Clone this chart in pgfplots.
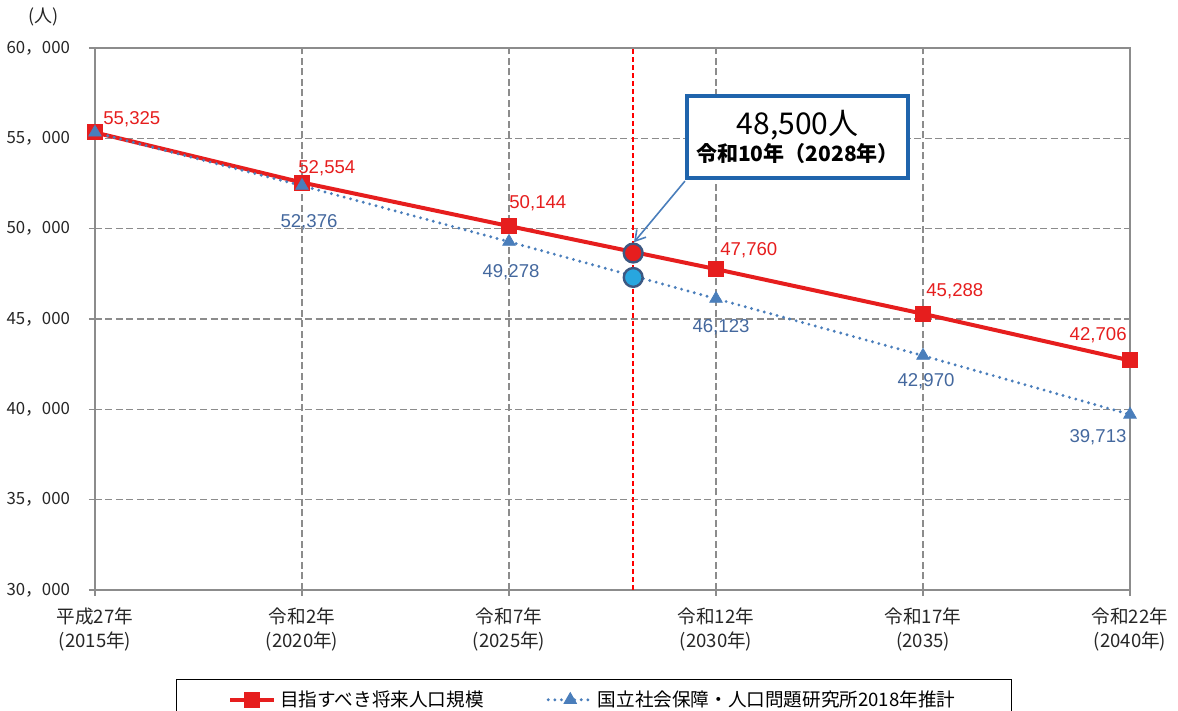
\documentclass[border=0pt]{standalone}
\usepackage{pgfplots}
\pgfplotsset{compat=1.18}
\usepackage{fontspec}
\setmainfont{Liberation Sans}
\newfontfamily\jp{Noto Sans CJK JP}
\usetikzlibrary{arrows.meta}
\definecolor{cred}{RGB}{230,30,30}
\definecolor{cblue}{RGB}{74,126,187}
\definecolor{lblue}{RGB}{68,104,158}
\definecolor{boxblue}{RGB}{31,100,172}
\definecolor{ringc}{RGB}{60,88,130}
\definecolor{cyanc}{RGB}{40,166,223}
\definecolor{gridc}{RGB}{140,140,140}
\begin{document}
\begin{tikzpicture}
\begin{axis}[
  name=ax,
  scale only axis,
  width=517.5pt, height=271pt,
  xmin=2015, xmax=2040,
  ymin=30000, ymax=60000,
  clip=false,
  scaled y ticks=false,
  xtick={2015,2020,2025,2030,2035,2040},
  xticklabels={{平成27年\\(2015年)},{令和2年\\(2020年)},{令和7年\\(2025年)},{令和12年\\(2030年)},{令和17年\\(2035)},{令和22年\\(2040年)}},
  ytick={30000,35000,40000,45000,50000,55000,60000},
  yticklabels={{30，000},{35，000},{40，000},{45，000},{50，000},{55，000},{60，000}},
  xtick pos=bottom, ytick pos=left,
  tick align=outside,
  major tick length=3pt,
  tick style={gridc, line width=0.6pt},
  axis line style={gridc, line width=0.8pt},
  grid=major,
  major grid style={gridc, line width=0.6pt, dash pattern=on 3.5pt off 1.75pt},
  xticklabel style={font=\jp\fontsize{9.3}{12}\selectfont, align=center, text=black!85, yshift=-2.5pt},
  yticklabel style={font=\jp\fontsize{8.4}{10}\selectfont, text=black!85, xshift=-6pt},
  legend style={at={(rel axis cs:0.482,-0.164)}, anchor=north, draw=black, line width=0.6pt,
    font=\jp\fontsize{9.3}{12}\selectfont, inner xsep=26pt, inner ysep=3.5pt,
    /tikz/every even column/.append style={column sep=29.5pt}},
  legend columns=2,
  legend cell align=left,
  legend image code/.code={\draw[mark repeat=2,mark phase=2,#1] plot coordinates {(0pt,0pt) (11pt,0pt) (22pt,0pt)};},
]
\addplot[cred, line width=2pt, mark=square*, mark size=3pt, mark options={solid, fill=cred, draw=cred}] coordinates {
  (2015,55325) (2020,52554) (2025,50144) (2030,47760) (2035,45288) (2040,42706)};
\addlegendentry{目指すべき将来人口規模}
\addplot[cblue, line width=1.6pt, line cap=round, dash pattern=on 0pt off 3.3pt, mark=triangle*, mark size=3.6pt, mark options={solid, fill=cblue, draw=cblue, line width=0.4pt}] coordinates {
  (2015,55325) (2020,52376) (2025,49278) (2030,46123) (2035,42970) (2040,39713)};
\addlegendentry{国立社会保障・人口問題研究所2018年推計}
% red vertical marker line (2028)
\draw[draw=red, line width=0.8pt, dash pattern=on 2.5pt off 1.5pt] (axis cs:2028,30000) -- (axis cs:2028,60000);
% highlighted 2028 points
\addplot[only marks, mark=*, mark size=4.7pt, mark options={fill=cyanc, draw=ringc, line width=1.2pt}, forget plot] coordinates {(2028,47300)};
\addplot[only marks, mark=*, mark size=4.7pt, mark options={fill=cred, draw=ringc, line width=1.2pt}, forget plot] coordinates {(2028,48650)};
% red data labels
\begin{scope}[every node/.style={font=\fontsize{9.3}{11}\selectfont, text=cred, inner sep=0pt}]
\node[anchor=base west, xshift=4pt, yshift=4pt] at (axis cs:2015,55325) {55,325};
\node[anchor=base west, xshift=-2pt, yshift=4.75pt] at (axis cs:2020,52554) {52,554};
\node[anchor=base west, xshift=0pt, yshift=9pt] at (axis cs:2025,50144) {50,144};
\node[anchor=base west, xshift=2pt, yshift=7pt] at (axis cs:2030,47760) {47,760};
\node[anchor=base west, xshift=1.5pt, yshift=8.5pt] at (axis cs:2035,45288) {45,288};
\node[anchor=base east, xshift=-1.5pt, yshift=10pt] at (axis cs:2040,42706) {42,706};
\end{scope}
% blue data labels
\begin{scope}[every node/.style={font=\fontsize{9.3}{11}\selectfont, text=lblue, inner sep=0pt}]
\node[xshift=3.5pt, yshift=-18pt] at (axis cs:2020,52376) {52,376};
\node[xshift=1pt, yshift=-15pt] at (axis cs:2025,49278) {49,278};
\node[xshift=2.5pt, yshift=-14pt] at (axis cs:2030,46123) {46,123};
\node[xshift=1.5pt, yshift=-12.7pt] at (axis cs:2035,42970) {42,970};
\node[xshift=-16pt, yshift=-11.5pt] at (axis cs:2040,39713) {39,713};
\end{scope}
% unit label
\node[font=\jp\fontsize{9}{10}\selectfont, text=black!85] at (axis cs:2015,60000) [xshift=-25.5pt, yshift=15.5pt] {(人)};
% callout
\draw[cblue, line width=0.8pt, -{Straight Barb[length=5pt, width=6pt]}] (axis cs:2029.25,52634) -- (axis cs:2028.02,49250);
\node[draw=boxblue, line width=2pt, fill=white, minimum width=110.5pt, minimum height=41pt, inner sep=0pt, align=center] at (axis cs:2031.97,55069)
  {{\jp\fontsize{15}{17}\selectfont 48,500人}\\[1.5pt]{\jp\bfseries\fontsize{10.5}{12}\selectfont 令和10年（2028年）}};
\end{axis}
\pgfresetboundingbox
\path[use as bounding box] ([shift={(-47.5pt,-60.5pt)}]ax.south west) rectangle ([shift={(24pt,24pt)}]ax.north east);
\end{tikzpicture}
\end{document}
